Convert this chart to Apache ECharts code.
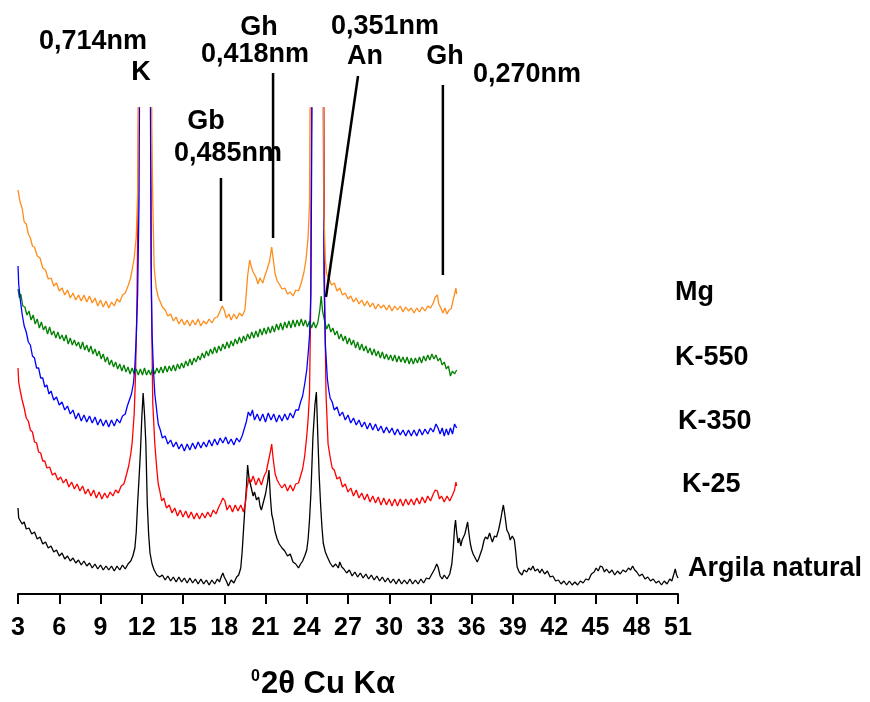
<!DOCTYPE html>
<html>
<head>
<meta charset="utf-8">
<title>DRX argila</title>
<script src="https://cdn.jsdelivr.net/npm/echarts@6/dist/echarts.min.js"></script>
<style>
  html, body { margin: 0; padding: 0; background: #fff; }
  #chart { width: 870px; height: 702px; }
</style>
</head>
<body>
<div id="chart"></div>
<script>
// eixo x: graus 2θ
const xTicks = [3, 6, 9, 12, 15, 18, 21, 24, 27, 30, 33, 36, 39, 42, 45, 48, 51];

// difratogramas empilhados (intensidade relativa, já com deslocamento vertical)
const mg = [[3.0,404],[3.15,392],[3.3,386],[3.45,372],[3.6,370],[3.75,360],[3.9,356],[4.05,348],[4.2,347],[4.4,338],[4.6,336],[4.8,326],[5.0,324],[5.2,315],[5.4,316],[5.6,308],[5.8,311],[6.0,303],[6.2,306],[6.4,299],[6.6,304],[6.8,296],[7.0,301],[7.2,294],[7.4,299],[7.6,293],[7.8,299],[8.0,292],[8.2,298],[8.4,291],[8.6,296],[8.8,288],[9.0,294],[9.2,287],[9.4,293],[9.6,286],[9.8,292],[10.0,288],[10.2,295],[10.4,292],[10.6,299],[10.8,301],[11.0,308],[11.15,314],[11.3,324],[11.45,336],[11.6,357],[11.7,400],[11.75,470],[11.78,600],[12.7,600],[12.73,470],[12.8,394],[12.9,327],[13.05,306],[13.2,297],[13.35,292],[13.5,287],[13.7,284],[13.9,278],[14.1,280],[14.3,273],[14.5,277],[14.7,270],[14.9,275],[15.1,269],[15.3,274],[15.5,268],[15.7,274],[15.9,269],[16.1,275],[16.3,268],[16.5,273],[16.7,270],[16.9,275],[17.1,271],[17.3,276],[17.5,277],[17.7,283],[17.85,288],[18.0,284],[18.15,276],[18.35,280],[18.5,274],[18.7,280],[18.9,275],[19.1,281],[19.3,278],[19.5,284],[19.6,300],[19.7,318],[19.85,334],[19.95,328],[20.1,322],[20.3,317],[20.45,310],[20.6,316],[20.8,311],[20.95,318],[21.1,324],[21.3,333],[21.45,347],[21.55,336],[21.7,320],[21.85,313],[22.0,310],[22.2,305],[22.4,306],[22.6,300],[22.8,302],[23.0,298],[23.2,304],[23.4,303],[23.6,311],[23.8,322],[23.95,335],[24.1,357],[24.2,390],[24.28,600],[25.2,600],[25.25,380],[25.35,334],[25.45,320],[25.6,316],[25.8,309],[26.0,311],[26.2,303],[26.4,306],[26.6,299],[26.8,301],[27.0,295],[27.2,298],[27.4,292],[27.6,296],[27.8,290],[28.0,294],[28.2,288],[28.4,293],[28.6,287],[28.8,291],[29.0,285],[29.2,290],[29.4,286],[29.6,289],[29.8,284],[30.0,289],[30.2,283],[30.4,288],[30.6,284],[30.8,288],[31.0,282],[31.2,287],[31.4,283],[31.6,286],[31.8,281],[32.0,286],[32.2,282],[32.4,287],[32.6,283],[32.8,288],[33.0,286],[33.2,291],[33.35,297],[33.5,299],[33.6,290],[33.75,286],[33.9,281],[34.05,286],[34.2,280],[34.35,284],[34.5,285],[34.65,294],[34.75,300],[34.85,306],[34.9,300]];

const k550 = [[3.0,305],[3.1,296],[3.2,300],[3.35,288],[3.5,287],[3.65,279],[3.8,283],[3.95,274],[4.1,279],[4.25,270],[4.4,275],[4.55,266],[4.7,272],[4.85,264],[5.0,268],[5.15,260],[5.3,267],[5.45,259],[5.6,263],[5.75,256],[5.9,262],[6.05,255],[6.2,259],[6.35,253],[6.5,259],[6.65,250],[6.8,256],[6.95,249],[7.1,254],[7.25,248],[7.4,252],[7.55,245],[7.7,252],[7.85,244],[8.0,249],[8.15,242],[8.3,248],[8.45,240],[8.6,245],[8.75,238],[8.9,243],[9.05,235],[9.2,240],[9.35,232],[9.5,237],[9.65,229],[9.8,234],[9.95,227],[10.1,232],[10.25,225],[10.4,230],[10.55,223],[10.7,229],[10.85,222],[11.0,227],[11.15,220],[11.3,226],[11.45,220],[11.6,225],[11.75,219],[11.9,225],[12.05,219],[12.2,226],[12.35,219],[12.5,224],[12.65,219],[12.8,226],[12.95,220],[13.1,226],[13.25,221],[13.4,227],[13.55,221],[13.7,228],[13.85,222],[14.0,228],[14.15,223],[14.3,229],[14.45,223],[14.6,230],[14.75,225],[14.9,231],[15.05,226],[15.2,233],[15.35,228],[15.5,235],[15.65,229],[15.8,236],[15.95,232],[16.1,238],[16.25,234],[16.4,241],[16.55,236],[16.7,243],[16.85,238],[17.0,245],[17.15,240],[17.3,247],[17.45,241],[17.6,248],[17.75,243],[17.9,250],[18.05,245],[18.2,252],[18.35,246],[18.5,253],[18.65,248],[18.8,255],[18.95,250],[19.1,257],[19.25,251],[19.4,258],[19.55,253],[19.7,260],[19.85,255],[20.0,262],[20.15,256],[20.3,263],[20.45,257],[20.6,265],[20.75,259],[20.9,266],[21.05,260],[21.2,267],[21.35,261],[21.5,268],[21.65,262],[21.8,270],[21.95,264],[22.1,271],[22.25,264],[22.4,272],[22.55,266],[22.7,273],[22.85,266],[23.0,274],[23.15,267],[23.3,274],[23.45,268],[23.6,275],[23.75,268],[23.9,274],[24.05,267],[24.2,273],[24.35,266],[24.5,272],[24.65,266],[24.8,271],[24.95,284],[25.05,298],[25.15,283],[25.3,273],[25.45,265],[25.6,270],[25.75,262],[25.9,266],[26.05,259],[26.2,263],[26.35,255],[26.5,260],[26.65,253],[26.8,258],[26.95,250],[27.1,256],[27.25,249],[27.4,254],[27.55,246],[27.7,252],[27.85,244],[28.0,250],[28.15,243],[28.3,248],[28.45,241],[28.6,246],[28.75,239],[28.9,245],[29.05,238],[29.2,243],[29.35,236],[29.5,242],[29.65,235],[29.8,240],[29.95,234],[30.1,239],[30.25,233],[30.4,239],[30.55,232],[30.7,238],[30.85,232],[31.0,237],[31.15,231],[31.3,237],[31.45,230],[31.6,236],[31.75,230],[31.9,236],[32.05,231],[32.2,237],[32.35,231],[32.5,238],[32.65,233],[32.8,239],[32.95,234],[33.1,240],[33.25,235],[33.4,239],[33.55,233],[33.7,236],[33.85,229],[34.0,232],[34.15,225],[34.3,228],[34.45,218],[34.6,223],[34.75,220],[34.9,224]];

const k350 = [[3.0,328],[3.05,310],[3.15,296],[3.3,280],[3.45,268],[3.6,262],[3.75,252],[3.9,249],[4.05,238],[4.2,236],[4.35,226],[4.5,226],[4.65,216],[4.8,216],[4.95,207],[5.1,209],[5.25,200],[5.4,203],[5.6,194],[5.8,197],[6.0,189],[6.2,192],[6.4,184],[6.6,188],[6.8,180],[7.0,184],[7.2,175],[7.4,181],[7.6,173],[7.8,179],[8.0,172],[8.2,178],[8.4,171],[8.6,177],[8.8,169],[9.0,175],[9.2,168],[9.4,174],[9.6,167],[9.8,174],[10.0,168],[10.2,175],[10.4,171],[10.6,178],[10.8,180],[10.95,188],[11.1,194],[11.25,200],[11.4,211],[11.5,228],[11.6,257],[11.7,300],[11.8,391],[11.87,600],[12.6,600],[12.68,330],[12.75,260],[12.85,224],[12.95,200],[13.05,188],[13.2,170],[13.35,164],[13.5,156],[13.7,158],[13.9,150],[14.1,154],[14.3,147],[14.5,152],[14.7,145],[14.9,150],[15.1,143],[15.3,150],[15.5,144],[15.7,151],[15.9,145],[16.1,152],[16.3,146],[16.5,152],[16.7,147],[16.9,154],[17.1,148],[17.3,155],[17.5,149],[17.7,156],[17.9,151],[18.1,157],[18.3,150],[18.5,155],[18.7,149],[18.9,156],[19.1,152],[19.3,158],[19.45,165],[19.6,172],[19.75,182],[19.9,178],[20.05,184],[20.2,174],[20.4,180],[20.6,173],[20.8,180],[21.0,172],[21.2,181],[21.4,174],[21.6,180],[21.8,172],[22.0,179],[22.2,173],[22.4,180],[22.6,174],[22.8,181],[23.0,176],[23.2,184],[23.4,184],[23.55,192],[23.7,198],[23.85,210],[24.0,224],[24.1,240],[24.2,258],[24.3,300],[24.43,600],[25.18,600],[25.25,320],[25.35,250],[25.5,215],[25.6,204],[25.7,196],[25.85,192],[26.0,184],[26.2,187],[26.4,178],[26.6,182],[26.8,174],[27.0,179],[27.2,171],[27.4,176],[27.6,169],[27.8,174],[28.0,167],[28.2,172],[28.4,165],[28.6,171],[28.8,164],[29.0,170],[29.2,163],[29.4,168],[29.6,161],[29.8,167],[30.0,161],[30.2,166],[30.4,159],[30.6,165],[30.8,159],[31.0,164],[31.2,158],[31.4,164],[31.6,158],[31.8,164],[32.0,158],[32.2,165],[32.4,159],[32.6,165],[32.8,160],[33.0,166],[33.2,162],[33.4,170],[33.55,166],[33.7,160],[33.85,166],[34.0,158],[34.15,165],[34.3,159],[34.45,166],[34.6,160],[34.75,170],[34.9,166]];

const k25 = [[3.0,226],[3.05,212],[3.15,204],[3.3,194],[3.45,186],[3.6,176],[3.75,173],[3.9,164],[4.05,162],[4.2,152],[4.35,151],[4.5,142],[4.65,141],[4.8,133],[4.95,133],[5.1,126],[5.3,127],[5.5,119],[5.7,121],[5.9,114],[6.1,117],[6.3,111],[6.5,115],[6.7,107],[6.9,112],[7.1,105],[7.3,110],[7.5,103],[7.7,108],[7.9,100],[8.1,105],[8.3,98],[8.5,104],[8.7,96],[8.9,102],[9.1,95],[9.3,101],[9.5,96],[9.7,102],[9.9,98],[10.1,104],[10.3,101],[10.5,108],[10.7,110],[10.9,120],[11.05,128],[11.2,140],[11.3,151],[11.45,180],[11.55,220],[11.65,290],[11.72,380],[11.8,600],[12.62,600],[12.7,300],[12.8,191],[12.95,150],[13.1,124],[13.2,110],[13.3,104],[13.45,93],[13.6,96],[13.8,86],[14.0,89],[14.2,81],[14.4,86],[14.6,78],[14.8,84],[15.0,77],[15.2,83],[15.4,76],[15.6,82],[15.8,75],[16.0,81],[16.2,75],[16.4,81],[16.6,76],[16.8,82],[17.0,77],[17.2,84],[17.4,80],[17.6,87],[17.75,91],[17.9,96],[18.05,93],[18.2,84],[18.4,89],[18.6,82],[18.8,89],[19.0,83],[19.2,89],[19.4,82],[19.55,92],[19.65,106],[19.8,116],[19.95,112],[20.1,118],[20.3,109],[20.5,116],[20.7,109],[20.9,118],[21.05,122],[21.2,132],[21.35,142],[21.45,150],[21.55,136],[21.7,120],[21.85,114],[22.0,110],[22.2,106],[22.4,110],[22.6,103],[22.8,109],[23.0,103],[23.2,110],[23.4,111],[23.55,118],[23.7,125],[23.85,138],[24.0,158],[24.1,175],[24.2,200],[24.28,280],[24.38,600],[25.22,600],[25.3,300],[25.4,200],[25.55,150],[25.7,137],[25.85,126],[26.0,124],[26.2,115],[26.4,117],[26.6,107],[26.8,110],[27.0,102],[27.2,106],[27.4,98],[27.6,104],[27.8,96],[28.0,101],[28.2,94],[28.4,100],[28.6,92],[28.8,98],[29.0,91],[29.2,97],[29.4,89],[29.6,96],[29.8,89],[30.0,95],[30.2,88],[30.4,95],[30.6,88],[30.8,95],[31.0,88],[31.2,95],[31.4,89],[31.6,95],[31.8,89],[32.0,96],[32.2,90],[32.4,97],[32.6,91],[32.8,98],[33.0,93],[33.2,100],[33.35,104],[33.5,103],[33.65,95],[33.8,98],[34.0,92],[34.2,98],[34.4,93],[34.6,99],[34.75,104],[34.85,112],[34.9,108]];

const argila = [[3.0,86],[3.05,76],[3.15,78],[3.3,70],[3.45,72],[3.6,65],[3.8,66],[4.0,60],[4.2,62],[4.4,55],[4.6,57],[4.8,50],[5.0,52],[5.2,46],[5.4,48],[5.6,42],[5.8,44],[6.0,38],[6.2,41],[6.4,35],[6.6,38],[6.8,33],[7.0,36],[7.2,31],[7.4,34],[7.6,29],[7.8,33],[8.0,28],[8.2,31],[8.4,26],[8.6,30],[8.8,25],[9.0,29],[9.2,24],[9.4,28],[9.6,24],[9.8,28],[10.0,23],[10.2,28],[10.4,24],[10.6,29],[10.8,25],[11.0,30],[11.2,33],[11.35,38],[11.5,46],[11.6,62],[11.7,91],[11.8,115],[11.9,141],[12.0,175],[12.1,201],[12.2,180],[12.3,150],[12.4,91],[12.5,60],[12.6,41],[12.75,30],[12.9,24],[13.1,19],[13.3,17],[13.5,19],[13.7,14],[13.9,18],[14.1,13],[14.3,17],[14.5,12],[14.7,17],[14.9,12],[15.1,16],[15.3,11],[15.5,16],[15.7,11],[15.9,15],[16.1,10],[16.3,15],[16.5,10],[16.7,14],[16.9,9],[17.1,14],[17.3,10],[17.5,15],[17.65,12],[17.8,18],[17.9,21],[18.0,17],[18.15,13],[18.3,8],[18.5,14],[18.7,11],[18.9,17],[19.05,19],[19.2,26],[19.3,42],[19.4,64],[19.5,86],[19.6,104],[19.7,129],[19.8,116],[19.9,110],[20.0,104],[20.1,98],[20.2,102],[20.35,94],[20.5,97],[20.6,88],[20.7,84],[20.85,92],[21.0,100],[21.15,112],[21.25,124],[21.35,98],[21.45,80],[21.55,74],[21.7,62],[21.85,55],[22.0,50],[22.2,46],[22.4,43],[22.6,38],[22.8,40],[23.0,32],[23.2,30],[23.4,26],[23.55,30],[23.7,33],[23.85,38],[24.0,44],[24.1,55],[24.2,74],[24.3,100],[24.45,157],[24.6,190],[24.7,202],[24.8,160],[24.9,120],[25.0,91],[25.1,68],[25.2,51],[25.35,42],[25.5,37],[25.7,31],[25.9,27],[26.1,30],[26.3,26],[26.4,32],[26.55,27],[26.7,25],[26.9,21],[27.1,24],[27.3,18],[27.5,22],[27.7,17],[27.9,21],[28.1,16],[28.3,20],[28.5,15],[28.7,19],[28.9,14],[29.1,18],[29.3,13],[29.5,17],[29.7,12],[29.9,16],[30.1,11],[30.3,15],[30.5,10],[30.7,15],[30.9,10],[31.1,14],[31.3,10],[31.5,15],[31.7,10],[31.9,14],[32.1,10],[32.3,15],[32.5,11],[32.7,16],[32.9,15],[33.1,20],[33.3,25],[33.45,30],[33.55,27],[33.7,18],[33.85,15],[34.0,19],[34.2,15],[34.4,20],[34.55,30],[34.65,45],[34.75,66],[34.82,74],[34.9,62],[35.0,51],[35.1,56],[35.2,48],[35.3,54],[35.4,52],[35.5,60],[35.6,66],[35.7,72],[35.8,60],[35.9,50],[36.0,44],[36.1,40],[36.25,36],[36.4,32],[36.5,35],[36.6,37],[36.75,45],[36.9,54],[37.0,57],[37.15,55],[37.3,61],[37.4,56],[37.5,52],[37.65,58],[37.8,57],[37.95,64],[38.1,74],[38.2,82],[38.3,89],[38.4,80],[38.55,64],[38.7,60],[38.8,54],[38.95,58],[39.1,54],[39.2,42],[39.3,27],[39.45,22],[39.65,19],[39.8,24],[40.0,22],[40.15,26],[40.3,24],[40.45,28],[40.6,23],[40.8,25],[40.95,21],[41.1,25],[41.3,20],[41.5,23],[41.7,17],[41.9,18],[42.1,13],[42.3,14],[42.5,10],[42.7,13],[42.9,9],[43.1,13],[43.3,9],[43.5,12],[43.7,9],[43.9,13],[44.1,11],[44.3,15],[44.5,14],[44.7,20],[44.9,22],[45.05,26],[45.2,23],[45.35,28],[45.5,27],[45.65,22],[45.8,25],[46.0,21],[46.2,24],[46.4,19],[46.6,23],[46.8,20],[47.0,24],[47.2,22],[47.4,26],[47.55,24],[47.7,28],[47.85,24],[48.0,22],[48.2,18],[48.4,20],[48.6,15],[48.8,17],[49.0,13],[49.2,15],[49.4,11],[49.6,13],[49.8,9],[50.0,13],[50.2,10],[50.4,15],[50.55,13],[50.7,20],[50.8,25],[50.9,19],[51.0,16]];

// linhas indicadoras dos picos (2θ, altura) no eixo de anotação
const markGb = [[17.76, 416], [17.76, 293]];
const markGh418 = [[21.55, 521], [21.55, 356]];
const markAn = [[27.73, 518], [25.4, 297]];
const markGh270 = [[33.9, 509], [33.9, 319]];

const seriesNames = ["Mg", "K-550", "K-350", "K-25", "Argila natural"];
const seriesColors = ["#ff8c1a", "#008000", "#0000ff", "#ff0000", "#000000"];
// ordem de desenho (z): azul por cima nos picos K
const seriesZ = [6, 4, 5, 3, 2];

const chart = echarts.init(document.getElementById("chart"));

const boldFont = "Liberation Sans, Arial, sans-serif";

function txt(str, x, y, align) {
  return {
    type: "text",
    x: x,
    y: y,
    style: {
      text: str,
      fill: "#000",
      font: "bold 27px " + boldFont,
      align: align || "center",
      verticalAlign: "middle"
    }
  };
}

function markSeries(pts) {
  return {
    type: "line",
    xAxisIndex: 1,
    yAxisIndex: 1,
    data: pts,
    symbol: "none",
    silent: true,
    lineStyle: { color: "#000", width: 2.5 },
    z: 10
  };
}

const curves = [mg, k550, k350, k25, argila].map((d, i) => ({
  name: seriesNames[i],
  type: "line",
  data: d,
  symbol: "none",
  clip: true,
  lineStyle: { color: seriesColors[i], width: 1.3 },
  z: seriesZ[i]
}));

chart.setOption({
  animation: false,
  backgroundColor: "#fff",
  grid: [
    { left: 18, right: 192, top: 108, bottom: 108 },
    { left: 18, right: 192, top: 0, bottom: 108 }
  ],
  xAxis: [
    {
      type: "value",
      min: 3,
      max: 51,
      interval: 3,
      axisLine: { lineStyle: { color: "#000", width: 2 } },
      axisTick: { length: 10, lineStyle: { color: "#000", width: 2 } },
      axisLabel: {
        color: "#000",
        fontWeight: "bold",
        fontSize: 25,
        fontFamily: "Liberation Sans Narrow, Liberation Sans, sans-serif",
        margin: 22,
        formatter: v => (xTicks.indexOf(v) >= 0 ? String(v) : "")
      },
      splitLine: { show: false }
    },
    { type: "value", gridIndex: 1, min: 3, max: 51, show: false }
  ],
  yAxis: [
    { type: "value", min: 0, max: 486, show: false },
    { type: "value", gridIndex: 1, min: 0, max: 594, show: false }
  ],
  series: curves.concat([
    markSeries(markGb),
    markSeries(markGh418),
    markSeries(markAn),
    markSeries(markGh270)
  ]),
  graphic: [
    txt("0,714nm", 93, 42),
    txt("K", 141, 73),
    txt("Gh", 259, 28),
    txt("0,418nm", 255, 55),
    txt("Gb", 206, 122),
    txt("0,485nm", 228, 154),
    txt("0,351nm", 385, 27),
    txt("An", 365, 57),
    txt("Gh", 445, 57),
    txt("0,270nm", 527, 75),
    txt("Mg", 675, 293, "left"),
    txt("K-550", 675, 358, "left"),
    txt("K-350", 678, 422, "left"),
    txt("K-25", 682, 485, "left"),
    txt("Argila natural", 688, 569, "left"),
    {
      type: "text",
      x: 323,
      y: 684,
      style: {
        text: "{s|0}{m|2θ Cu Kα}",
        align: "center",
        verticalAlign: "middle",
        rich: {
          s: { font: "bold 16px " + boldFont, fill: "#000", verticalAlign: "top", padding: [0, 1, 14, 0] },
          m: { font: "bold 31px " + boldFont, fill: "#000" }
        }
      }
    }
  ]
});
</script>
</body>
</html>
